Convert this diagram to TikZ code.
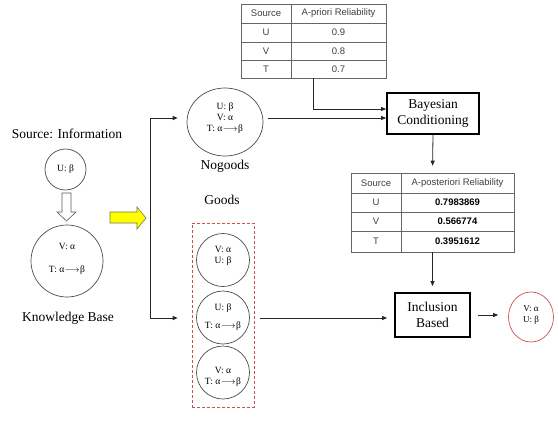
\documentclass[tikz,border=0pt]{standalone}
\usepackage{fontspec}
\setmainfont{Liberation Serif}
\newfontfamily\arialf{Liberation Sans}
\usetikzlibrary{arrows.meta,calc,shapes.geometric}
\definecolor{dred}{RGB}{205,80,80}
\definecolor{yel}{RGB}{255,255,0}
\definecolor{olive2}{RGB}{120,120,60}
\newcommand\myimp{\kern0.5pt$\longrightarrow$\kern0.5pt}
\begin{document}
\begin{tikzpicture}[x=1pt,y=-1pt,
  arr/.style={draw=black!85, line width=0.8pt, -{Triangle[length=5pt,width=4pt]}},
  circ/.style={circle, draw=black!70, line width=0.7pt, inner sep=0pt},
  ctext/.style={font=\fontsize{9.5}{11}\selectfont, align=center, inner sep=0pt},
  lbl/.style={font=\fontsize{13.5}{15}\selectfont, inner sep=0pt},
  proc/.style={draw=black, line width=1.8pt, font=\fontsize{13.5}{16}\selectfont, align=center, inner sep=0pt},
  tline/.style={draw=black!60, line width=0.6pt},
  ttext/.style={font=\arialf\fontsize{9.5}{10}\selectfont, text=black!75, inner sep=0pt},
  tval/.style={font=\arialf\bfseries\fontsize{9.5}{10}\selectfont, text=black, inner sep=0pt},
]
\path[use as bounding box] (0,0) rectangle (558,424);
\fill[white] (0,0) rectangle (558,424);

% ---------- left part ----------
\node[lbl] (src) at (67,134) {Source: Information};
\node[circ, minimum size=41pt] (u) at (65.5,169.5) {};
\node[ctext] (ut) at (u) {U: β};
\draw[fill=white, draw=black!65, line width=0.6pt]
  (62,193) -- (71,193) -- (71,212) -- (76,212) -- (66.5,221) -- (57,212) -- (62,212) -- cycle;
\node[circ, minimum size=72pt] (kb) at (67,261) {};
\node[ctext] (kbv) at (67,246) {V: α};
\node[ctext] (kbt) at (67,270) {T: α\myimp β};
\node[lbl] (kbl) at (68,318) {Knowledge Base};

% yellow arrow
\draw[fill=yel, draw=olive2, line width=0.6pt]
  (110,212) -- (137,212) -- (137,207) -- (146,218) -- (137,229) -- (137,223) -- (110,223) -- cycle;

% ---------- nogoods ----------
\node[ellipse, draw=black!70, line width=0.7pt, inner sep=0pt, minimum width=76pt, minimum height=68pt] (ng) at (225,122) {};
\node[ctext, font=\fontsize{9.5}{11}\selectfont] (ngt) at (225,118.5) {U: β\\V: α\\T: α\myimp β};
\node[lbl] (ngl) at (225,166) {Nogoods};

% ---------- goods ----------
\node[lbl] (gl) at (222,200) {Goods};
\node[draw=dred, dash pattern=on 3pt off 2pt, line width=0.7pt, minimum width=62pt, minimum height=184pt, inner sep=0pt] (gbox) at (223,315) {};
\node[circ, minimum size=53pt] (g1) at (223,260) {};
\node[ctext] (g1t) at (223,256) {V: α\\U: β};
\node[circ, minimum size=53pt] (g2) at (223,317.5) {};
\node[ctext, font=\fontsize{9.5}{18}\selectfont] (g2t) at (223,317.5) {U: β\\T: α\myimp β};
\node[circ, minimum size=53pt] (g3) at (223,372.5) {};
\node[ctext] (g3t) at (223,377) {V: α\\T: α\myimp β};

% bracket
\coordinate (bt) at (150,118);
\coordinate (bb) at (150,318);
\draw[arr, shorten >=9pt] (bb) -- (bt) -- (bt -| ng.west);
\draw[arr, shorten >=14pt] (bb) -- (bb -| gbox.west);

% ---------- top table ----------
\node[tline, minimum width=145pt, minimum height=74pt, inner sep=0pt] (t1) at (313.5,41) {};
\draw[tline] (241,23) -- (386,23) (241,42) -- (386,42) (241,60) -- (386,60) (291,4) -- (291,78);
\node[ttext] (t1h1) at (266,13.5) {Source};
\node[ttext] (t1h2) at (338.5,13.5) {A-priori Reliability};
\node[ttext] (t1a) at (266,32.5) {U};
\node[ttext] (t1av) at (338.5,32.5) {0.9};
\node[ttext] (t1b) at (266,51) {V};
\node[ttext] (t1bv) at (338.5,51) {0.8};
\node[ttext] (t1c) at (266,69) {T};
\node[ttext] (t1cv) at (338.5,69) {0.7};

% ---------- Bayesian ----------
\node[proc, minimum width=92pt, minimum height=41pt] (bayes) at (433,113.5) {Bayesian\\Conditioning};
\draw[arr] (t1.south) |- ([yshift=4.5pt]bayes.west);
\draw[arr, shorten <=5pt] ([yshift=-4.5pt]bayes.west -| ng.east) -- ([yshift=-4.5pt]bayes.west);

% ---------- posterior table ----------
\node[tline, minimum width=163pt, minimum height=79pt, inner sep=0pt] (t2) at (432.5,212.5) {};
\draw[tline] (351,193) -- (514,193) (351,212) -- (514,212) (351,231) -- (514,231) (401,173) -- (401,252);
\node[ttext] (t2h1) at (376,183) {Source};
\node[ttext] (t2h2) at (457.5,183) {A-posteriori Reliability};
\node[ttext] (t2a) at (376,202.5) {U};
\node[tval] (t2av) at (457.5,202.5) {0.7983869};
\node[ttext] (t2b) at (376,221.5) {V};
\node[tval] (t2bv) at (457.5,221.5) {0.566774};
\node[ttext] (t2c) at (376,241.5) {T};
\node[tval] (t2cv) at (457.5,241.5) {0.3951612};
\draw[arr, shorten >=7pt] (bayes.south) -- (t2.north);

% ---------- Inclusion ----------
\node[proc, minimum width=75pt, minimum height=44pt] (incl) at (432.5,315) {Inclusion\\Based};
\draw[arr, shorten >=6pt] (t2.south) -- (incl.north);
\draw[arr, shorten <=6pt, shorten >=7pt] ([yshift=-3pt]incl.west -| gbox.east) -- ([yshift=-3pt]incl.west);

% result
\node[ellipse, draw=dred, line width=0.7pt, inner sep=0pt, minimum width=45pt, minimum height=50pt] (res) at (531,317) {};
\node[ctext, font=\fontsize{9}{11}\selectfont] (rest) at (531,315) {V: α\\U: β};
\draw[arr, shorten <=7pt, shorten >=10pt] (incl.east) -- (incl.east -| res.west);
\end{tikzpicture}
\end{document}
